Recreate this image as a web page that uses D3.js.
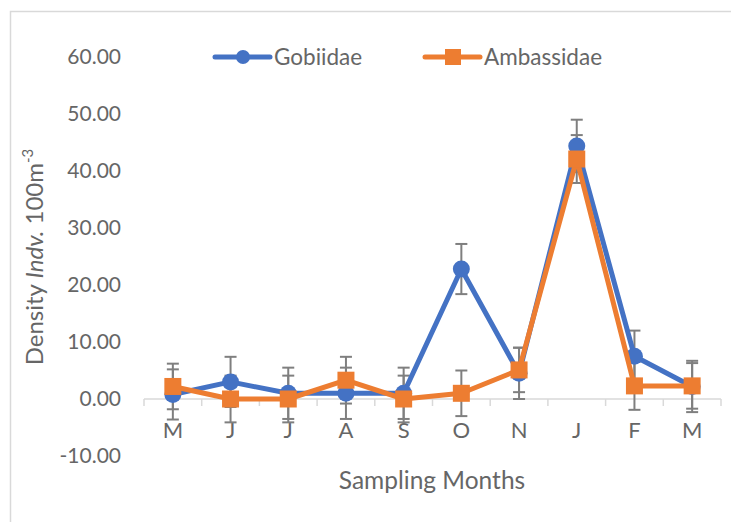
<!DOCTYPE html>
<html>
<head>
<meta charset="utf-8">
<script src="https://cdn.jsdelivr.net/npm/d3@7"></script>
<style>
  body { margin: 0; background: #fff; }
  text { font-family: Lato, "Open Sans", sans-serif; fill: #666; }
</style>
</head>
<body>
<div id="chart"></div>
<script>
var months = ["M", "J", "J", "A", "S", "O", "N", "J", "F", "M"];
var gobiidae = [0.8, 3.0, 1.0, 1.0, 1.0, 22.8, 4.5, 44.4, 7.5, 2.2];
var gobiidaeErr = [4.4, 4.4, 4.5, 4.5, 4.5, 4.4, 4.5, 4.6, 4.5, 4.5];
var ambassidae = [2.2, 0.0, 0.0, 3.3, 0.0, 1.0, 5.1, 42.1, 2.3, 2.3];
var ambassidaeErr = [4.0, 4.1, 4.1, 4.1, 4.1, 4.0, 3.9, 4.2, 4.2, 4.0];
var yTicks = [-10, 0, 10, 20, 30, 40, 50, 60];

var width = 731, height = 522;

var svg = d3.select("#chart").append("svg")
  .attr("width", width)
  .attr("height", height);

// chart frame (only top + left visible)
svg.append("path")
  .attr("d", "M10.5,522 V11.5 H731")
  .attr("fill", "none")
  .attr("stroke", "#d9d9d9")
  .attr("stroke-width", 1.5);

var x = d3.scaleBand()
  .domain(d3.range(months.length))
  .range([144, 721]);

var y = d3.scaleLinear()
  .domain([-10, 60])
  .range([456, 57]);

var cx = function(i) { return x(i) + x.bandwidth() / 2; };

// plain hyphen minus like the original
var fmt = d3.formatLocale({ decimal: ".", thousands: ",", grouping: [3], currency: ["", ""], minus: "-" }).format(".2f");

// y axis labels, no line
var yAxis = svg.append("g")
  .attr("transform", "translate(144,0)")
  .call(d3.axisLeft(y).tickValues(yTicks).tickFormat(fmt).tickSize(0).tickPadding(23));
yAxis.select(".domain").remove();
yAxis.selectAll("text")
  .attr("font-size", 21)
  .attr("fill", "#666")
  .style("font-family", "Lato, sans-serif");

// x axis line + tick marks at category boundaries
var y0 = y(0);
svg.append("line")
  .attr("x1", x.range()[0]).attr("x2", x.range()[1])
  .attr("y1", y0).attr("y2", y0)
  .attr("stroke", "#d9d9d9").attr("stroke-width", 1.5);

var bounds = d3.range(months.length).map(function(i) { return x(i); }).concat([x.range()[1]]);
svg.selectAll("line.xtick")
  .data(bounds)
  .enter().append("line")
  .attr("class", "xtick")
  .attr("x1", function(d) { return d; }).attr("x2", function(d) { return d; })
  .attr("y1", y0).attr("y2", y0 + 7)
  .attr("stroke", "#d9d9d9").attr("stroke-width", 1.5);

var xAxis = svg.append("g")
  .attr("transform", "translate(0," + y0 + ")")
  .call(d3.axisBottom(x).tickFormat(function(i) { return months[i]; }).tickSize(0).tickPadding(23));
xAxis.select(".domain").remove();
xAxis.selectAll("text")
  .attr("font-size", 22)
  .attr("fill", "#666")
  .style("font-family", "Lato, sans-serif");

// axis titles
svg.append("text")
  .attr("x", 432)
  .attr("y", 489)
  .attr("text-anchor", "middle")
  .attr("font-size", 24.5)
  .text("Sampling Months");

var yTitle = svg.append("text")
  .attr("transform", "translate(43,257) rotate(-90)")
  .attr("text-anchor", "middle")
  .attr("font-size", 24);
yTitle.append("tspan").text("Density ");
yTitle.append("tspan").attr("font-style", "italic").text("Indv.");
yTitle.append("tspan").text(" 100m");
yTitle.append("tspan").attr("font-size", 15).attr("dy", -10).text("-3");

var series = [
  { name: "Gobiidae", values: gobiidae, err: gobiidaeErr, color: "#4472c4", marker: "circle" },
  { name: "Ambassidae", values: ambassidae, err: ambassidaeErr, color: "#ed7d31", marker: "square" }
];

// error bars (behind lines)
series.forEach(function(s) {
  var g = svg.append("g").attr("stroke", "#7f7f7f").attr("stroke-width", 2);
  s.values.forEach(function(v, i) {
    var top = y(v + s.err[i]), bot = y(v - s.err[i]), c = cx(i);
    g.append("line").attr("x1", c).attr("x2", c).attr("y1", top).attr("y2", bot);
    g.append("line").attr("x1", c - 6).attr("x2", c + 6).attr("y1", top).attr("y2", top);
    g.append("line").attr("x1", c - 6).attr("x2", c + 6).attr("y1", bot).attr("y2", bot);
  });
});

var line = d3.line()
  .x(function(d, i) { return cx(i); })
  .y(function(d) { return y(d); });

function drawMarker(sel, s, px, py, size) {
  if (s.marker == "circle") {
    sel.append("circle").attr("cx", px).attr("cy", py).attr("r", size / 2).attr("fill", s.color);
  } else {
    sel.append("rect").attr("x", px - size / 2).attr("y", py - size / 2)
      .attr("width", size).attr("height", size).attr("fill", s.color);
  }
}

series.forEach(function(s) {
  var g = svg.append("g");
  g.append("path")
    .datum(s.values)
    .attr("d", line)
    .attr("fill", "none")
    .attr("stroke", s.color)
    .attr("stroke-width", 5)
    .attr("stroke-linejoin", "round");
  s.values.forEach(function(v, i) {
    drawMarker(g, s, cx(i), y(v), s.marker == "circle" ? 17 : 17);
  });
});

// legend
var legendX = [215, 425];
series.forEach(function(s, k) {
  var g = svg.append("g").attr("transform", "translate(" + legendX[k] + ",57)");
  g.append("line")
    .attr("x1", 0).attr("x2", 55)
    .attr("stroke", s.color).attr("stroke-width", 5).attr("stroke-linecap", "round");
  drawMarker(g, s, 28, 0, s.marker == "circle" ? 14 : 16);
  g.append("text")
    .attr("x", 59).attr("y", 8)
    .attr("font-size", 22.5)
    .text(s.name);
});
</script>
</body>
</html>
